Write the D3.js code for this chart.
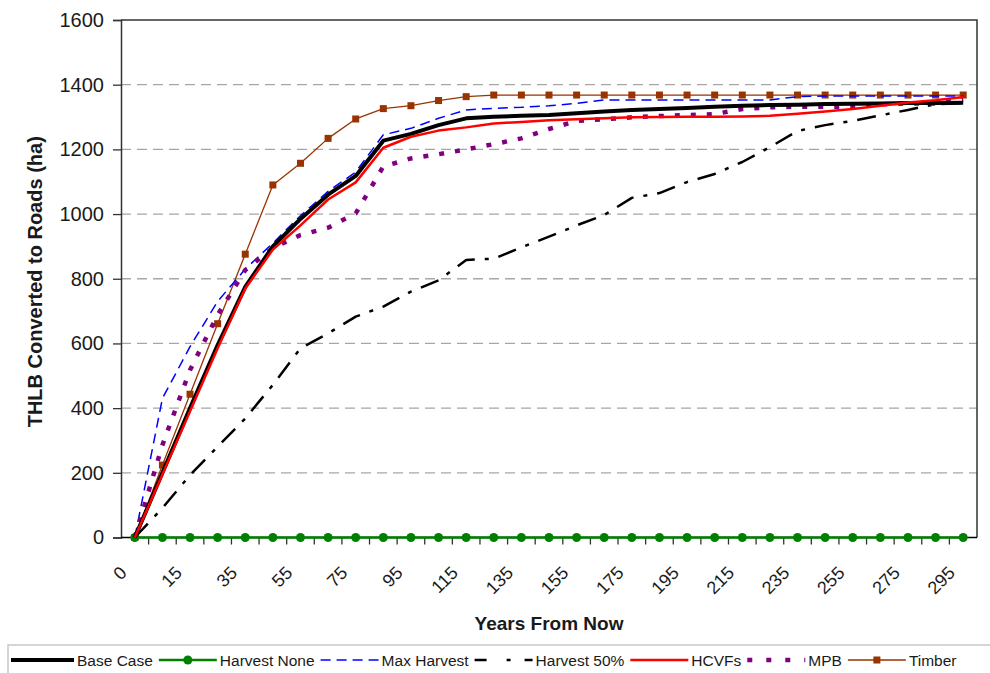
<!DOCTYPE html>
<html><head><meta charset="utf-8">
<script src="https://cdn.jsdelivr.net/npm/d3@7"></script>
<style>body{margin:0;background:#fff} svg{font-family:"Liberation Sans",Arial,sans-serif}</style>
</head><body><svg id="c" width="990" height="673"></svg>
<script>
const years = ["0","5","15","25","35","45","55","65","75","85","95","105","115","125","135","145","155","165","175","185","195","205","215","225","235","245","255","265","275","285","295"];
const xTickLabels = ["0","15","35","55","75","95","115","135","155","175","195","215","235","255","275","295"];
const yTicks = [0,200,400,600,800,1000,1200,1400,1600];

const baseCase   = [0,200,400,595,775,900,985,1060,1118,1227,1248,1275,1296,1301,1304,1306,1312,1317,1322,1325,1328,1332,1335,1337,1338,1340,1341,1342,1343,1343,1344];
const harvestNone= [0,0,0,0,0,0,0,0,0,0,0,0,0,0,0,0,0,0,0,0,0,0,0,0,0,0,0,0,0,0,0];
const maxHarvest = [0,430,590,730,830,910,995,1070,1130,1245,1265,1296,1322,1327,1330,1335,1342,1353,1353,1353,1353,1353,1353,1353,1363,1365,1365,1365,1365,1365,1365];
const harvest50  = [0,91,193,281,368,472,585,631,683,714,760,795,858,862,897,930,965,997,1050,1065,1099,1124,1161,1207,1257,1275,1288,1305,1322,1340,1343];
const hcvfs      = [0,195,390,585,770,890,965,1045,1098,1205,1239,1258,1268,1280,1285,1290,1293,1296,1299,1300,1301,1301,1302,1304,1310,1317,1325,1335,1345,1352,1362];
const mpb        = [0,286,518,688,827,895,935,958,1002,1147,1172,1185,1200,1216,1234,1263,1288,1293,1299,1303,1306,1309,1325,1330,1332,1332,1332,1339,1342,1342,1355];
const timber     = [0,224,443,661,876,1090,1157,1234,1294,1326,1335,1351,1363,1368,1368,1368,1368,1368,1368,1368,1368,1368,1368,1368,1368,1368,1368,1368,1368,1368,1368];

const series = [
  {name:"Base Case", values:baseCase, color:"#000", width:4, dash:null, ldash:null},
  {name:"Harvest None", values:harvestNone, color:"#008000", width:2.5, dash:null, ldash:null, marker:"circle"},
  {name:"Max Harvest", values:maxHarvest, color:"#0000ff", width:1.5, dash:"10,6", ldash:"10,6"},
  {name:"Harvest 50%", values:harvest50, color:"#000", width:2.5, dash:"19,10,4,10", ldash:"12,20,4,14,10"},
  {name:"HCVFs", values:hcvfs, color:"#ff0000", width:2.5, dash:null, ldash:null},
  {name:"MPB", values:mpb, color:"#800080", width:4.5, dash:"5,11", ldash:"5,14"},
  {name:"Timber", values:timber, color:"#993300", width:1.3, dash:null, ldash:null, marker:"square"}
];

const svg = d3.select("#c");
const L=121, R=977, T=20, B=537.5;
const x = d3.scaleBand().domain(years).range([L,R]).paddingInner(0).paddingOuter(0);
const y = d3.scaleLinear().domain([0,1600]).range([B,T]);
const cx = d => x(d)+x.bandwidth()/2;

// gridlines
svg.append("g").selectAll("line").data(yTicks.filter(v=>v>0&&v<1600)).join("line")
  .attr("x1",L).attr("x2",R).attr("y1",d=>y(d)).attr("y2",d=>y(d))
  .attr("stroke","#a6a6a6").attr("stroke-width",1.3).attr("stroke-dasharray","10,6");

// frame top/right
svg.append("path").attr("d",`M${L},${y(1600)}H${R}V${B}`).attr("fill","none").attr("stroke","#333").attr("stroke-width",1.5);

// y axis
const ya = svg.append("g").attr("transform",`translate(${L},0)`)
  .call(d3.axisLeft(y).tickValues(yTicks).tickSize(8).tickPadding(9).tickFormat(d3.format("d")));
ya.select(".domain").attr("stroke","#333").attr("stroke-width",1.5);
ya.selectAll(".tick line").attr("stroke","#333").attr("stroke-width",1.3);
ya.selectAll("text").attr("font-size",20).attr("fill","#1a1a1a").attr("font-family","Liberation Sans, Arial, sans-serif");

// x axis line and ticks at band boundaries
svg.append("line").attr("x1",L).attr("x2",R).attr("y1",B).attr("y2",B).attr("stroke","#000").attr("stroke-width",1.5);
svg.append("g").selectAll("line").data(years.slice(1)).join("line")
  .attr("x1",d=>x(d)).attr("x2",d=>x(d)).attr("y1",B).attr("y2",B+7)
  .attr("stroke","#333").attr("stroke-width",1.3);
svg.append("g").selectAll("text").data(xTickLabels).join("text")
  .attr("transform",d=>`translate(${cx(d)-7},574) rotate(-45)`)
  .attr("text-anchor","end").attr("font-size",18).attr("fill","#1a1a1a").text(d=>d);

// titles
svg.append("text").attr("x",(L+R)/2).attr("y",630).attr("text-anchor","middle")
  .attr("font-size",19).attr("font-weight","bold").attr("fill","#1a1a1a").text("Years From Now");
svg.append("text").attr("transform",`translate(42,${(T+B)/2+3}) rotate(-90)`).attr("text-anchor","middle")
  .attr("font-size",20).attr("font-weight","bold").attr("fill","#1a1a1a").text("THLB Converted to Roads (ha)");

// lines
const line = d3.line().x((d,i)=>cx(years[i])).y(d=>y(d));
const order = [6,1,3,2,5,0,4];
order.forEach(k=>{
  const s = series[k];
  svg.append("path").attr("d",line(s.values)).attr("fill","none").attr("stroke",s.color)
    .attr("stroke-width",s.width).attr("stroke-dasharray",s.dash).attr("stroke-linejoin","round");
  if(s.marker==="circle"){
    svg.append("g").selectAll("circle").data(s.values).join("circle")
      .attr("cx",(d,i)=>cx(years[i])).attr("cy",d=>y(d)).attr("r",4.5).attr("fill",s.color);
  } else if(s.marker==="square"){
    svg.append("g").selectAll("rect").data(s.values).join("rect")
      .attr("x",(d,i)=>cx(years[i])-3.5).attr("y",d=>y(d)-3.5).attr("width",7).attr("height",7).attr("fill",s.color);
  }
});

// legend
svg.append("rect").attr("x",8).attr("y",645).attr("width",1000).attr("height",40).attr("fill","none").attr("stroke","#c8c8c8").attr("stroke-width",1.5);
let lx = 11; const ly = 660;
series.forEach((s,k)=>{
  const sw = k===0?63:58;
  svg.append("line").attr("x1",lx).attr("x2",lx+sw).attr("y1",ly).attr("y2",ly)
    .attr("stroke",s.color).attr("stroke-width",s.width).attr("stroke-dasharray",s.ldash);
  if(s.marker==="circle") svg.append("circle").attr("cx",lx+sw/2).attr("cy",ly).attr("r",4.5).attr("fill",s.color);
  if(s.marker==="square") svg.append("rect").attr("x",lx+sw/2-3.5).attr("y",ly-3.5).attr("width",7).attr("height",7).attr("fill",s.color);
  const t = svg.append("text").attr("x",lx+sw+3).attr("y",ly+5.5).attr("font-size",15.5).attr("fill","#1a1a1a").text(s.name);
  lx = lx+sw+3+t.node().getComputedTextLength()+6;
});
</script></body></html>
